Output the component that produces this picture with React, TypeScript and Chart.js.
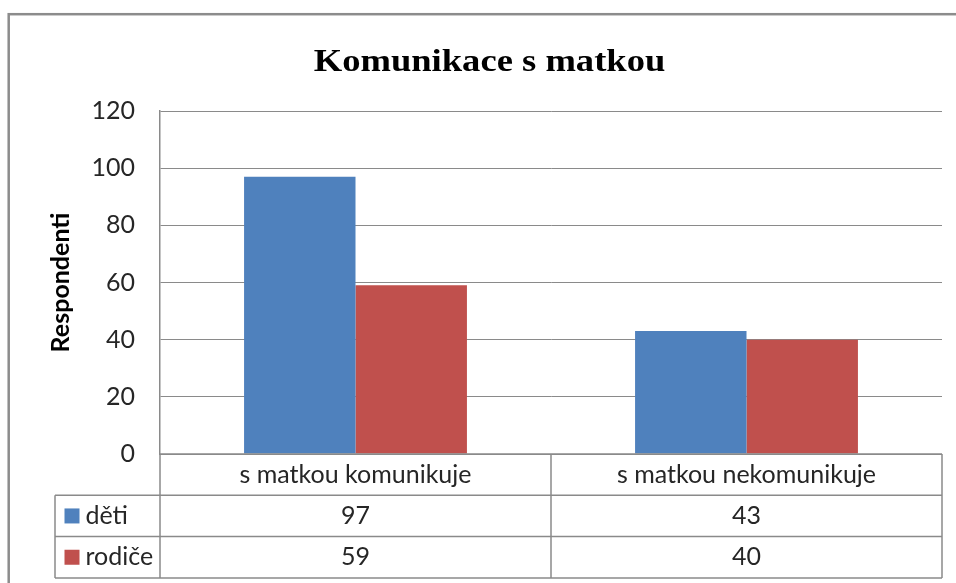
import React, { useEffect, useRef } from "react";
import { Chart, registerables } from "chart.js";

Chart.register(...registerables);

const categories = ["s matkou komunikuje", "s matkou nekomunikuje"];
const seriesNames = ["děti", "rodiče"];
const detiValues = [97, 43];
const rodiceValues = [59, 40];
const yTicks = [0, 20, 40, 60, 80, 100, 120];
const chartTitle = "Komunikace s matkou";
const yTitle = "Respondenti";

const BLUE = "#4F81BD";
const RED = "#C0504D";
const GRID = "#8a8a8a";
const TEXT = "#262626";
const SANS = "Lato, 'Open Sans', sans-serif";

const framePlugin = {
  id: "frame",
  beforeDraw(chart: any) {
    const { ctx } = chart;
    ctx.save();
    ctx.fillStyle = "#fff";
    ctx.fillRect(0, 0, chart.width, chart.height);
    ctx.strokeStyle = "#8c8c8c";
    ctx.lineWidth = 2.5;
    ctx.strokeRect(8.7, 14.2, 2000, 2000);
    ctx.restore();
  },
};

const titlePlugin = {
  id: "customTitle",
  afterDraw(chart: any) {
    const { ctx } = chart;
    ctx.save();
    ctx.font = "bold 31px 'Liberation Serif', 'Times New Roman', serif";
    ctx.fillStyle = "#000";
    ctx.textAlign = "center";
    ctx.textBaseline = "alphabetic";
    ctx.translate(489.5, 71);
    ctx.scale(1.18, 1);
    ctx.fillText(chartTitle, 0, 0);
    ctx.restore();
  },
};

const tablePlugin = {
  id: "dataTable",
  afterDraw(chart: any) {
    const { ctx, chartArea } = chart;
    const xs = chart.scales.x;
    const top = chartArea.bottom;
    const rowH = 41.3;
    const r1 = top + rowH;
    const r2 = r1 + rowH;
    const r3 = r2 + rowH;
    const legendLeft = 55;
    const left = chartArea.left;
    const right = chartArea.right;
    const n = categories.length;
    const bounds: number[] = [left];
    for (let i = 0; i < n - 1; i++) {
      bounds.push((xs.getPixelForValue(i) + xs.getPixelForValue(i + 1)) / 2);
    }
    bounds.push(right);

    ctx.save();
    ctx.strokeStyle = GRID;
    ctx.lineWidth = 1.5;
    ctx.beginPath();
    ctx.moveTo(left, top);
    ctx.lineTo(right, top);
    [r1, r2, r3].forEach((y) => {
      ctx.moveTo(legendLeft, y);
      ctx.lineTo(right, y);
    });
    bounds.forEach((x) => {
      ctx.moveTo(x, top);
      ctx.lineTo(x, r3);
    });
    ctx.moveTo(legendLeft, r1);
    ctx.lineTo(legendLeft, r3);
    ctx.stroke();

    ctx.fillStyle = TEXT;
    ctx.font = "25px " + SANS;
    ctx.textAlign = "center";
    ctx.textBaseline = "middle";
    categories.forEach((c, i) => {
      const cx = (bounds[i] + bounds[i + 1]) / 2;
      ctx.fillText(c, cx, (top + r1) / 2);
    });
    const rows = [detiValues, rodiceValues];
    const rowTops = [r1, r2];
    const colors = [BLUE, RED];
    rows.forEach((vals, ri) => {
      const cy = rowTops[ri] + rowH / 2;
      vals.forEach((v, i) => {
        const cx = (bounds[i] + bounds[i + 1]) / 2;
        ctx.fillStyle = TEXT;
        ctx.textAlign = "center";
        ctx.fillText(String(v), cx, cy);
      });
      ctx.fillStyle = colors[ri];
      ctx.fillRect(64.5, cy - 7.5, 15, 15);
      ctx.fillStyle = TEXT;
      ctx.textAlign = "left";
      ctx.fillText(seriesNames[ri], 85.5, cy);
    });
    ctx.restore();
  },
};

export default function App() {
  const canvasRef = useRef<HTMLCanvasElement | null>(null);

  useEffect(() => {
    if (!canvasRef.current) return;
    const chart = new Chart(canvasRef.current, {
      type: "bar",
      data: {
        labels: categories,
        datasets: [
          {
            label: seriesNames[0],
            data: detiValues,
            backgroundColor: BLUE,
            borderWidth: 0,
          },
          {
            label: seriesNames[1],
            data: rodiceValues,
            backgroundColor: RED,
            borderWidth: 0,
          },
        ],
      },
      options: {
        animation: false,
        responsive: true,
        maintainAspectRatio: false,
        layout: { padding: { top: 111, left: 46, right: 14, bottom: 129 } },
        plugins: {
          legend: { display: false },
          title: { display: false },
          tooltip: { enabled: false },
        },
        datasets: {
          bar: { categoryPercentage: 0.57, barPercentage: 1.0 },
        },
        scales: {
          x: {
            display: false,
          },
          y: {
            min: 0,
            max: 120,
            afterFit(scale: any) {
              scale.width = 114;
            },
            afterBuildTicks(scale: any) {
              scale.ticks = yTicks.map((v) => ({ value: v }));
            },
            ticks: {
              color: TEXT,
              padding: 25,
              font: { family: SANS, size: 25 },
            },
            grid: {
              color: GRID,
              lineWidth: 1,
              drawTicks: false,
            },
            border: { display: true, color: GRID, width: 1.5 },
            title: {
              display: true,
              text: yTitle,
              color: "#000",
              padding: { top: 0, bottom: 0 },
              font: { family: SANS, size: 25, weight: "bold" },
            },
          },
        },
      },
      plugins: [framePlugin, titlePlugin, tablePlugin],
    });
    return () => chart.destroy();
  }, []);

  return (
    <div
      style={{
        position: "fixed",
        left: 0,
        top: 0,
        width: "956px",
        height: "583px",
        background: "#fff",
      }}
    >
      <canvas ref={canvasRef} />
    </div>
  );
}
